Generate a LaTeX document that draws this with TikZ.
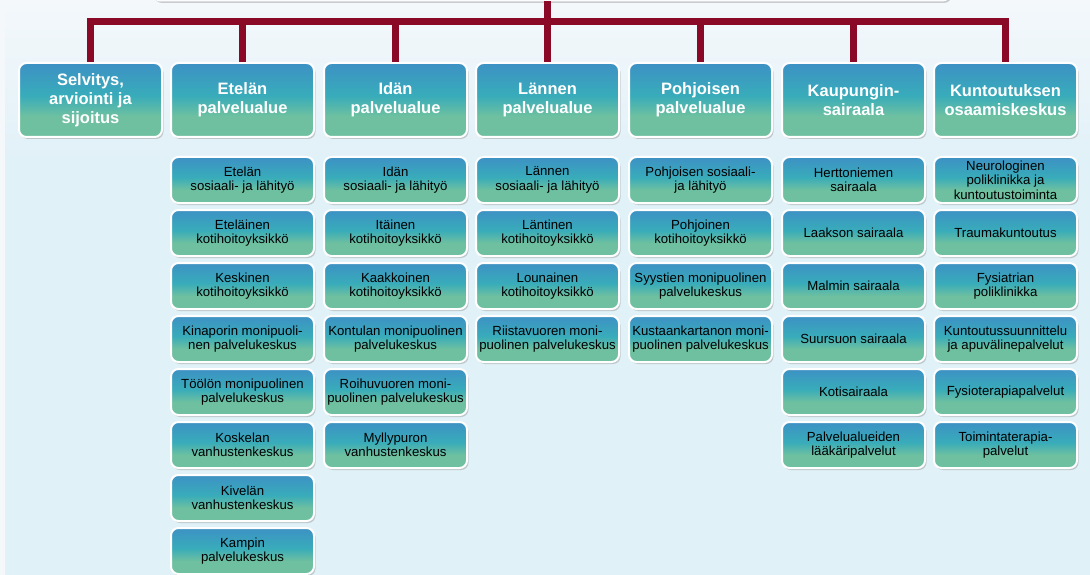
\documentclass[tikz,border=0pt]{standalone}
\usepackage{fontspec}
\setmainfont{Liberation Sans}
\usetikzlibrary{positioning,shadows}

\definecolor{boxblue}{RGB}{61,145,196}
\definecolor{boxteal}{RGB}{56,172,186}
\definecolor{boxgreen}{RGB}{110,192,160}
\definecolor{linkred}{RGB}{137,9,38}
\definecolor{paleblue}{RGB}{225,241,248}
\definecolor{paletop}{RGB}{244,248,251}

\pgfdeclareverticalshading{orgshade}{100bp}{color(0bp)=(boxgreen); color(39bp)=(boxgreen); color(53bp)=(boxteal); color(75bp)=(boxblue); color(100bp)=(boxblue)}

\begin{document}
\begin{tikzpicture}[x=1pt, y=-1pt,
	orgbox/.style={rectangle, rounded corners=7.5pt, draw=white, line width=2pt, outer sep=1pt,
		shading=orgshade, drop shadow={shadow xshift=1.5pt, shadow yshift=-2pt, fill=black!60, opacity=0.3},
		align=center, inner sep=1pt},
	headbox/.style={orgbox, minimum width=143pt, minimum height=74pt, text=white,
		font=\fontsize{16.5}{19}\selectfont\bfseries},
	unitbox/.style={orgbox, minimum width=143pt, minimum height=46pt,
		font=\fontsize{13.2}{14.5}\selectfont},
	topbox/.style={rectangle, rounded corners=7.5pt, fill=paletop, draw=white, line width=1pt,
		minimum width=797pt, minimum height=26pt,
		drop shadow={shadow xshift=1.5pt, shadow yshift=-2pt, fill=black!60, opacity=0.3}},
	tree/.style={draw=linkred, line width=6.5pt}]
	\useasboundingbox (0,0) rectangle (1090,575);
	% background
	\fill[paleblue] (0,0) rectangle (1090,575);
	\shade[top color=paletop, bottom color=paleblue] (0,0) rectangle (1090,160);
	\fill[paletop] (0,0) rectangle (5,575);

	\node[topbox] (top) at (551.5,-12) {};

	% palvelualueet
	\node[headbox] (selv) at (90.5,100) {Selvitys,\\arviointi ja\\sijoitus};
	\node[headbox] (etela) at (242.5,100) {Etelän\\palvelualue};
	\node[headbox] (ita) at (395.5,100) {Idän\\palvelualue};
	\node[headbox] (lansi) at (547.5,100) {Lännen\\palvelualue};
	\node[headbox] (pohjoinen) at (700.5,100) {Pohjoisen\\palvelualue};
	\node[headbox] (kaupunki) at (853.5,100) {Kaupungin-\\sairaala};
	\node[headbox] (kuntoutus) at (1005.5,100) {Kuntoutuksen\\osaamiskeskus};

	% Etelä
	\node[unitbox, below=18pt of etela] (etela1) {Etelän\\sosiaali- ja lähityö};
	\node[unitbox, below=5pt of etela1] (etela2) {Eteläinen\\kotihoitoyksikkö};
	\node[unitbox, below=5pt of etela2] (etela3) {Keskinen\\kotihoitoyksikkö};
	\node[unitbox, below=5pt of etela3] (etela4) {Kinaporin monipuoli-\\nen palvelukeskus};
	\node[unitbox, below=5pt of etela4] (etela5) {Töölön monipuolinen\\palvelukeskus};
	\node[unitbox, below=5pt of etela5] (etela6) {Koskelan\\vanhustenkeskus};
	\node[unitbox, below=5pt of etela6] (etela7) {Kivelän\\vanhustenkeskus};
	\node[unitbox, below=5pt of etela7] (etela8) {Kampin\\palvelukeskus};

	% Itä
	\node[unitbox, below=18pt of ita] (ita1) {Idän\\sosiaali- ja lähityö};
	\node[unitbox, below=5pt of ita1] (ita2) {Itäinen\\kotihoitoyksikkö};
	\node[unitbox, below=5pt of ita2] (ita3) {Kaakkoinen\\kotihoitoyksikkö};
	\node[unitbox, below=5pt of ita3] (ita4) {Kontulan monipuolinen\\palvelukeskus};
	\node[unitbox, below=5pt of ita4] (ita5) {Roihuvuoren moni-\\puolinen palvelukeskus};
	\node[unitbox, below=5pt of ita5] (ita6) {Myllypuron\\vanhustenkeskus};

	% Länsi
	\node[unitbox, below=18pt of lansi] (lansi1) {Lännen\\sosiaali- ja lähityö};
	\node[unitbox, below=5pt of lansi1] (lansi2) {Läntinen\\kotihoitoyksikkö};
	\node[unitbox, below=5pt of lansi2] (lansi3) {Lounainen\\kotihoitoyksikkö};
	\node[unitbox, below=5pt of lansi3] (lansi4) {Riistavuoren moni-\\puolinen palvelukeskus};

	% Pohjoinen
	\node[unitbox, below=18pt of pohjoinen] (pohjoinen1) {Pohjoisen sosiaali-\\ja lähityö};
	\node[unitbox, below=5pt of pohjoinen1] (pohjoinen2) {Pohjoinen\\kotihoitoyksikkö};
	\node[unitbox, below=5pt of pohjoinen2] (pohjoinen3) {Syystien monipuolinen\\palvelukeskus};
	\node[unitbox, below=5pt of pohjoinen3] (pohjoinen4) {Kustaankartanon moni-\\puolinen palvelukeskus};

	% Kaupunginsairaala
	\node[unitbox, below=18pt of kaupunki] (kaupunki1) {Herttoniemen\\sairaala};
	\node[unitbox, below=5pt of kaupunki1] (kaupunki2) {Laakson sairaala};
	\node[unitbox, below=5pt of kaupunki2] (kaupunki3) {Malmin sairaala};
	\node[unitbox, below=5pt of kaupunki3] (kaupunki4) {Suursuon sairaala};
	\node[unitbox, below=5pt of kaupunki4] (kaupunki5) {Kotisairaala};
	\node[unitbox, below=5pt of kaupunki5] (kaupunki6) {Palvelualueiden\\lääkäripalvelut};

	% Kuntoutus
	\node[unitbox, below=18pt of kuntoutus] (kuntoutus1) {Neurologinen\\poliklinikka ja\\kuntoutustoiminta};
	\node[unitbox, below=5pt of kuntoutus1] (kuntoutus2) {Traumakuntoutus};
	\node[unitbox, below=5pt of kuntoutus2] (kuntoutus3) {Fysiatrian\\poliklinikka};
	\node[unitbox, below=5pt of kuntoutus3] (kuntoutus4) {Kuntoutussuunnittelu\\ja apuvälinepalvelut};
	\node[unitbox, below=5pt of kuntoutus4] (kuntoutus5) {Fysioterapiapalvelut};
	\node[unitbox, below=5pt of kuntoutus5] (kuntoutus6) {Toimintaterapia-\\palvelut};

	% tree
	\coordinate (hub) at (547.5,21.5);
	\draw[tree] (top.south -| hub) -- (hub);
	\draw[tree] (hub) -| (selv.north);
	\draw[tree] (hub) -| (etela.north);
	\draw[tree] (hub) -| (ita.north);
	\draw[tree] (hub) -- (lansi.north);
	\draw[tree] (hub) -| (pohjoinen.north);
	\draw[tree] (hub) -| (kaupunki.north);
	\draw[tree] (hub) -| (kuntoutus.north);
\end{tikzpicture}
\end{document}
